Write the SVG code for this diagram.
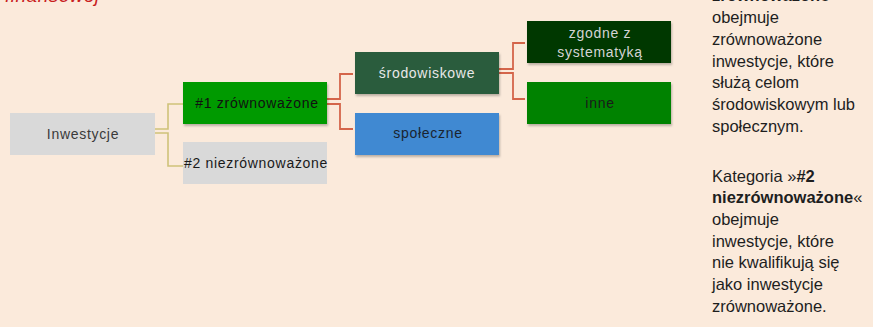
<svg xmlns="http://www.w3.org/2000/svg" width="873" height="327" viewBox="0 0 873 327">
<defs>
<filter id="sh" x="-10%" y="-10%" width="125%" height="135%">
<feDropShadow dx="1" dy="2" stdDeviation="1.2" flood-color="#000" flood-opacity="0.25"/>
</filter>
<style>
.n{font-family:"Liberation Sans",Arial,sans-serif;font-size:14px;letter-spacing:0.7px;text-anchor:middle}
.c1{fill:none;stroke:#cfc27a;stroke-width:1.6}
.c2{fill:none;stroke:#d4654a;stroke-width:1.8}
.t{font-family:"Liberation Sans",Arial,sans-serif;font-size:16.5px;fill:#1e1e1e}
.b{font-weight:bold}
</style>
</defs>
<rect width="873" height="327" fill="#fbeadb"/>
<text x="5" y="2" font-family="Liberation Sans, Arial, sans-serif" font-size="19" font-style="italic" letter-spacing="0.5" fill="#c8201e">finansowej</text>
<g id="connectors">
<path class="c1" d="M155 129 H168 V104 H183"/>
<path class="c1" d="M155 133 H168 V166 H183"/>
<path class="c2" d="M327 99 H340 V74 H353"/>
<path class="c2" d="M327 104 H340 V129 H353"/>
<path class="c2" d="M499 69 H513 V43 H525"/>
<path class="c2" d="M499 73 H513 V99 H525"/>
</g>
<g id="inwestycje">
<rect x="10" y="113" width="145" height="42" fill="#d9d9d9"/>
<text class="n" x="83" y="139" fill="#3a3a3a">Inwestycje</text>
</g>
<g id="zrownowazone">
<rect x="183" y="82" width="144" height="42" fill="#009a00" filter="url(#sh)"/>
<text class="n" x="257" y="108" fill="#111">#1 zrównoważone</text>
</g>
<g id="niezrownowazone">
<rect x="183" y="142" width="144" height="42" fill="#d9d9d9"/>
<text class="n" x="256" y="168" fill="#1a1a1a">#2 niezrównoważone</text>
</g>
<g id="srodowiskowe">
<rect x="355" y="52" width="144" height="42" fill="#2a5b3e" filter="url(#sh)"/>
<text class="n" x="427" y="78" fill="#e8e8e8">środowiskowe</text>
</g>
<g id="spoleczne">
<rect x="355" y="113" width="144" height="42" fill="#4189d2" filter="url(#sh)"/>
<text class="n" x="428" y="138" fill="#1a2430">społeczne</text>
</g>
<g id="zgodne">
<rect x="527" y="21" width="144" height="42" fill="#003900" filter="url(#sh)"/>
<text class="n" x="600" y="38" fill="#d4d4d4">zgodne z</text>
<text class="n" x="600" y="57" fill="#d4d4d4">systematyką</text>
</g>
<g id="inne">
<rect x="527" y="82" width="144" height="42" fill="#008200" filter="url(#sh)"/>
<text class="n" x="600" y="108" fill="#1a1a1a">inne</text>
</g>
<g id="opis">
<text class="t" x="712" y="1"><tspan class="b">zrównoważone</tspan>«</text>
<text class="t" x="712" y="23">obejmuje</text>
<text class="t" x="712" y="45">zrównoważone</text>
<text class="t" x="712" y="67">inwestycje, które</text>
<text class="t" x="712" y="88">służą celom</text>
<text class="t" x="712" y="110">środowiskowym lub</text>
<text class="t" x="712" y="132">społecznym.</text>
<text class="t" x="712" y="182">Kategoria »<tspan class="b">#2</tspan></text>
<text class="t" x="712" y="203"><tspan class="b">niezrównoważone</tspan>«</text>
<text class="t" x="712" y="225">obejmuje</text>
<text class="t" x="712" y="247">inwestycje, które</text>
<text class="t" x="712" y="268">nie kwalifikują się</text>
<text class="t" x="712" y="290">jako inwestycje</text>
<text class="t" x="712" y="312">zrównoważone.</text>
</g>
</svg>
